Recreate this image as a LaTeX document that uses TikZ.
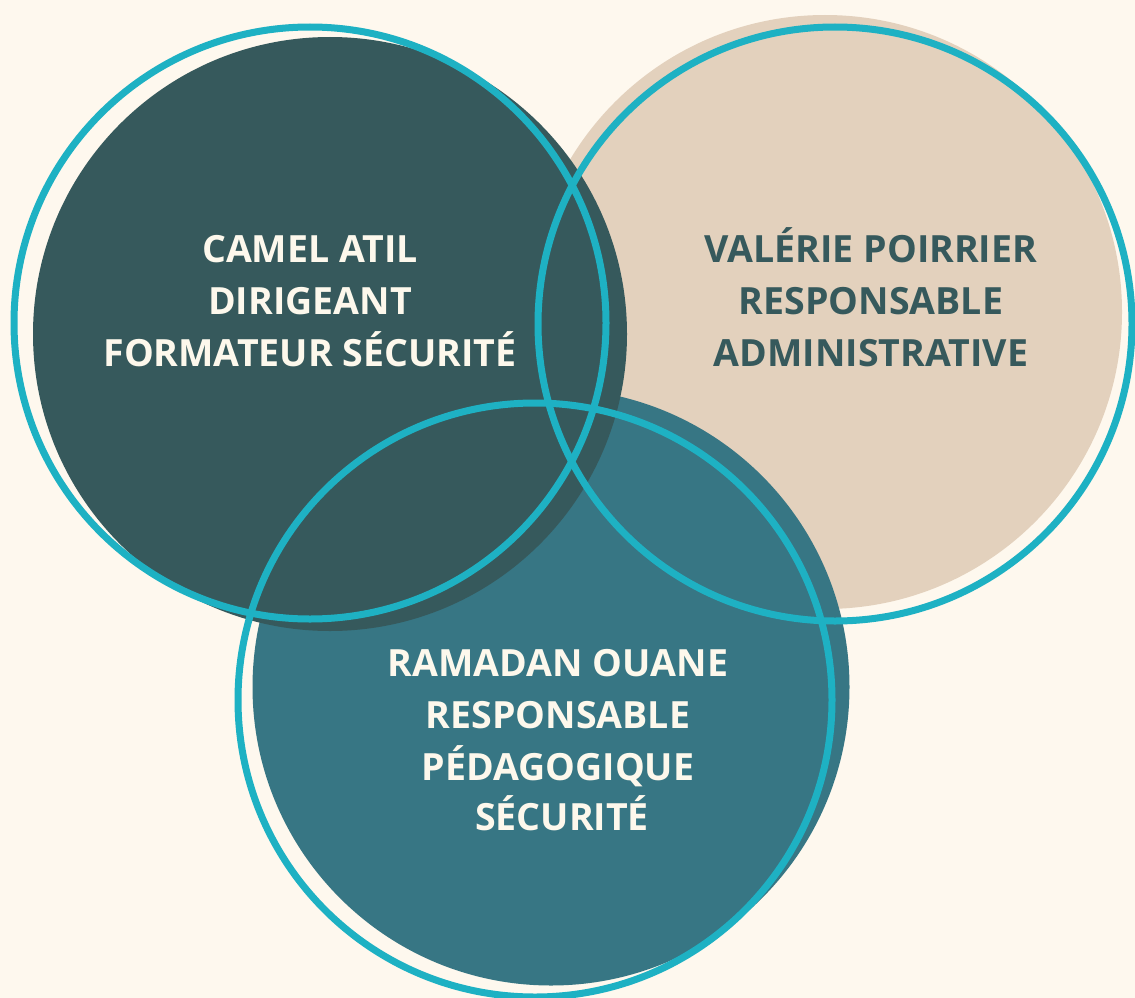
\documentclass[tikz,border=0pt]{standalone}
\usepackage{fontspec}
\setmainfont{Open Sans}
\definecolor{bgc}{HTML}{FEF8EE}
\definecolor{darkc}{HTML}{36595C}
\definecolor{beigec}{HTML}{E3D1BD}
\definecolor{tealc}{HTML}{377684}
\definecolor{ringc}{HTML}{1EB1C3}
\definecolor{creamtxt}{HTML}{FDF8EC}
\tikzset{
  blob/.style={circle, inner sep=0pt, outer sep=0pt, draw=none},
  ring/.style={circle, inner sep=0pt, outer sep=0pt, draw=ringc, line width=7pt, fill=none},
  lbl/.style={anchor=base, inner sep=0pt, font=\fontsize{37.5}{52}\selectfont\bfseries},
}
\begin{document}
\begin{tikzpicture}[x=1pt,y=-1pt]
\fill[bgc] (0,0) rectangle (1135,998);
\useasboundingbox (0,0) rectangle (1135,998);
% fills
\node[blob, fill=beigec, minimum size=594pt] (beigefill) at (825,312) {};
\node[blob, fill=tealc, minimum size=597pt] (tealfill) at (551,687) {};
\node[blob, fill=darkc, minimum size=594pt] (darkfill) at (330,334) {};
% rings
\node[ring, minimum size=592pt] (darkring) at (310,323) {};
\node[ring, minimum size=594pt] (beigering) at (835,324) {};
\node[ring, minimum size=594pt] (tealring) at (535,700) {};
% texts
\node[lbl, text=creamtxt] (a1) at (310,262) {CAMEL ATIL};
\node[lbl, text=creamtxt] (a2) at (310,314) {DIRIGEANT};
\node[lbl, text=creamtxt] (a3) at (310,366) {FORMATEUR SÉCURITÉ};
\node[lbl, text=darkc] (b1) at (871,262) {VALÉRIE POIRRIER};
\node[lbl, text=darkc] (b2) at (871,314) {RESPONSABLE};
\node[lbl, text=darkc] (b3) at (871,366) {ADMINISTRATIVE};
\node[lbl, text=creamtxt] (c1) at (558,676) {RAMADAN OUANE};
\node[lbl, text=creamtxt] (c2) at (558,728) {RESPONSABLE};
\node[lbl, text=creamtxt] (c3) at (558,780) {PÉDAGOGIQUE};
\node[lbl, text=creamtxt] (c4) at (562,830) {SÉCURITÉ};
\end{tikzpicture}
\end{document}
